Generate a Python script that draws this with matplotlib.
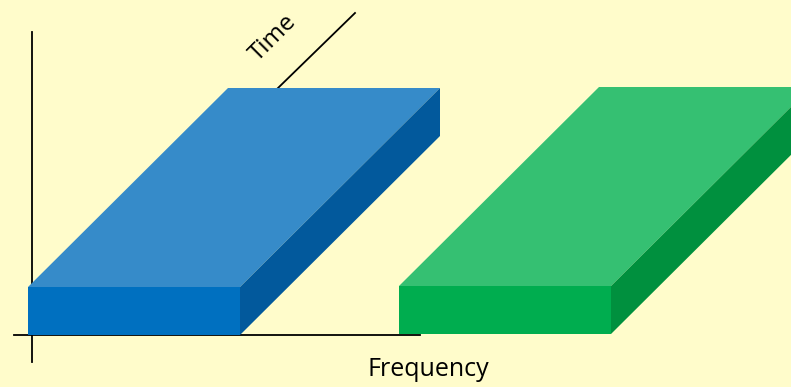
import matplotlib
matplotlib.use("Agg")
import matplotlib.pyplot as plt
from matplotlib.patches import Polygon

# bands (pixel coordinates of the diagram)
band_names = ["blue", "green"]
band_start = [28, 399]
band_width = [212, 212]
band_base = [335, 334]
thickness = 48
depth_dx = 200
depth_dy = -199

front_colors = ["#0070C0", "#00AD4F"]
top_colors = ["#368BC9", "#35C072"]
side_colors = ["#02599C", "#00903E"]

bg = "#FFFCCB"

fig = plt.figure(figsize=(7.91, 3.87), dpi=100, facecolor=bg)
ax = fig.add_axes([0, 0, 1, 1])
ax.set_xlim(0, 791)
ax.set_ylim(387, 0)
ax.set_facecolor(bg)
ax.axis("off")

# axes lines
ax.plot([32, 32], [32, 362], color="black", lw=1.3, zorder=1)
ax.plot([14, 420], [335, 335], color="black", lw=1.3, zorder=1)
ax.plot([278, 355], [88, 13], color="black", lw=1.3, zorder=1)

for i in range(len(band_names)):
    x0 = band_start[i]
    x1 = x0 + band_width[i]
    yb = band_base[i]
    yt = yb - thickness
    front = [(x0, yb), (x1, yb), (x1, yt), (x0, yt)]
    top = [(x0, yt), (x1, yt), (x1 + depth_dx, yt + depth_dy), (x0 + depth_dx, yt + depth_dy)]
    side = [(x1, yb), (x1 + depth_dx, yb + depth_dy), (x1 + depth_dx, yt + depth_dy), (x1, yt)]
    ax.add_patch(Polygon(top, closed=True, facecolor=top_colors[i], edgecolor="none", zorder=2))
    ax.add_patch(Polygon(side, closed=True, facecolor=side_colors[i], edgecolor="none", zorder=2))
    ax.add_patch(Polygon(front, closed=True, facecolor=front_colors[i], edgecolor="none", zorder=3))

ax.text(273, 38, "Time", rotation=45, ha="center", va="center", fontsize=17.5,
        family="Open Sans", color="black")
ax.text(428, 370, "Frequency", ha="center", va="center", fontsize=18,
        family="Open Sans", color="black")

fig.savefig("out.png", dpi=100, facecolor=bg)
